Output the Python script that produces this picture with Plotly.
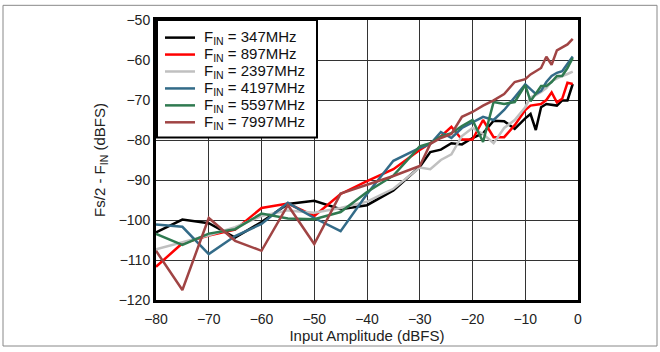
import plotly.graph_objects as go

amplitude = [-80, -75, -70, -65, -60, -55, -50, -45, -40, -35, -30, -28, -26, -24, -22,
             -20, -18, -16, -14, -12, -10, -9, -8, -7, -6, -5, -4, -3, -2, -1]

f347 = [-103.1, -99.9, -100.8, -104.4, -100.5, -96.0, -95.2, -97.3, -96.3, -92.6, -86.7, -83.0, -82.4, -80.8, -81.1,
        -79.5, -78.3, -75.2, -75.3, -77.2, -74.6, -73.5, -77.5, -71.8, -71.0, -71.2, -71.4, -70.1, -70.1, -66.0]
f897 = [-111.7, -105.8, -103.9, -102.4, -97.0, -95.9, -99.0, -93.5, -90.3, -87.3, -82.5, -80.8, -79.1, -76.7, -79.9,
        -79.9, -75.0, -79.3, -79.3, -76.3, -72.5, -71.4, -71.2, -71.0, -70.0, -68.1, -70.6, -69.7, -65.7, -66.0]
f2397 = [-107.3, -105.5, -103.8, -101.8, -99.0, -97.6, -98.2, -97.0, -95.4, -92.2, -86.9, -87.3, -85.0, -83.6, -79.0,
         -77.0, -78.5, -80.8, -77.0, -75.0, -71.8, -69.3, -68.8, -68.0, -67.0, -65.3, -64.6, -64.0, -63.5, -62.9]
f4197 = [-101.1, -101.7, -108.5, -104.0, -101.0, -95.7, -99.5, -102.8, -93.5, -85.2, -82.0, -81.0, -78.0, -79.5, -77.0,
         -75.5, -74.2, -75.0, -72.5, -69.3, -66.1, -67.3, -68.5, -67.7, -65.5, -64.0, -63.2, -62.8, -60.8, -59.1]
f5597 = [-103.5, -106.2, -103.4, -102.3, -98.4, -99.6, -99.8, -98.0, -93.0, -88.9, -81.6, -80.8, -79.1, -78.3, -76.5,
         -75.0, -80.5, -70.5, -71.0, -70.5, -66.3, -70.3, -68.4, -66.5, -66.5, -65.5, -64.0, -64.0, -62.0, -59.5]
f7997 = [-107.7, -117.5, -99.5, -105.2, -107.7, -96.3, -106.0, -93.4, -91.2, -89.0, -86.5, -81.0, -79.5, -78.5, -74.2,
         -73.0, -71.4, -70.1, -68.5, -65.5, -64.8, -63.6, -62.8, -62.0, -59.2, -61.2, -57.6, -56.8, -56.1, -54.7]

series_names = ["F<sub>IN</sub> = 347MHz", "F<sub>IN</sub> = 897MHz", "F<sub>IN</sub> = 2397MHz",
                "F<sub>IN</sub> = 4197MHz", "F<sub>IN</sub> = 5597MHz", "F<sub>IN</sub> = 7997MHz"]
series_values = [f347, f897, f2397, f4197, f5597, f7997]
series_colors = ["#000000", "#ff0000", "#c0c0c0", "#336b88", "#2f7a50", "#a04444"]

x_ticks = [-80, -70, -60, -50, -40, -30, -20, -10, 0]
y_ticks = [-120, -110, -100, -90, -80, -70, -60, -50]

W, H = 660, 352
ML, MR, MT, MB = 156, 82, 16, 50
PW, PH = W - ML - MR, H - MT - MB


def px_x(px):
    return (px - ML) / PW


def px_y(py):
    return (H - MB - py) / PH


fig = go.Figure()
for name, vals, col in zip(series_names, series_values, series_colors):
    fig.add_trace(go.Scatter(x=amplitude, y=vals, mode="lines", name=name, showlegend=False,
                             line=dict(color=col, width=2.5)))

font_family = "Liberation Sans, Arial, sans-serif"
axis_common = dict(showgrid=True, gridcolor="#333333", gridwidth=1, zeroline=False,
                   showline=True, linecolor="black", linewidth=3, mirror=True,
                   ticks="", tickfont=dict(size=14, color="#222", family=font_family))

fig.update_layout(
    width=W, height=H,
    margin=dict(l=ML, r=MR, t=MT, b=MB),
    paper_bgcolor="white", plot_bgcolor="white",
    font=dict(family=font_family, color="#222"),
    xaxis=dict(range=[-80, 0], tickvals=x_ticks, ticklabelstandoff=4,
               title=dict(text="Input Amplitude (dBFS)", font=dict(size=15), standoff=3),
               **axis_common),
    yaxis=dict(range=[-120, -50], tickvals=y_ticks,
               title=dict(text="Fs/2 - F<sub>IN</sub> (dBFS)", font=dict(size=15), standoff=10),
               **axis_common),
    showlegend=False,
)

# outer frame of the picture
fig.add_shape(type="rect", xref="paper", yref="paper",
              x0=px_x(3), x1=px_x(657), y0=px_y(349), y1=px_y(1),
              line=dict(color="#888888", width=1), layer="below")

# legend box drawn as layout elements
fig.add_shape(type="rect", xref="paper", yref="paper",
              x0=px_x(157), x1=px_x(317), y0=px_y(136), y1=px_y(16),
              line=dict(color="black", width=2), fillcolor="white", layer="above")
row_top, row_step = 34.0, 17.3
for i, (name, col) in enumerate(zip(series_names, series_colors)):
    yy = px_y(row_top + i * row_step)
    fig.add_shape(type="line", xref="paper", yref="paper",
                  x0=px_x(165), x1=px_x(195), y0=yy, y1=yy,
                  line=dict(color=col, width=2.5), layer="above")
    fig.add_annotation(xref="paper", yref="paper", x=px_x(202), y=yy,
                       xanchor="left", yanchor="middle", showarrow=False,
                       text=name, font=dict(size=15, family=font_family, color="#111"))

fig.write_html("out.html", config={"displayModeBar": False},
               post_script="document.body.style.margin='0';")
